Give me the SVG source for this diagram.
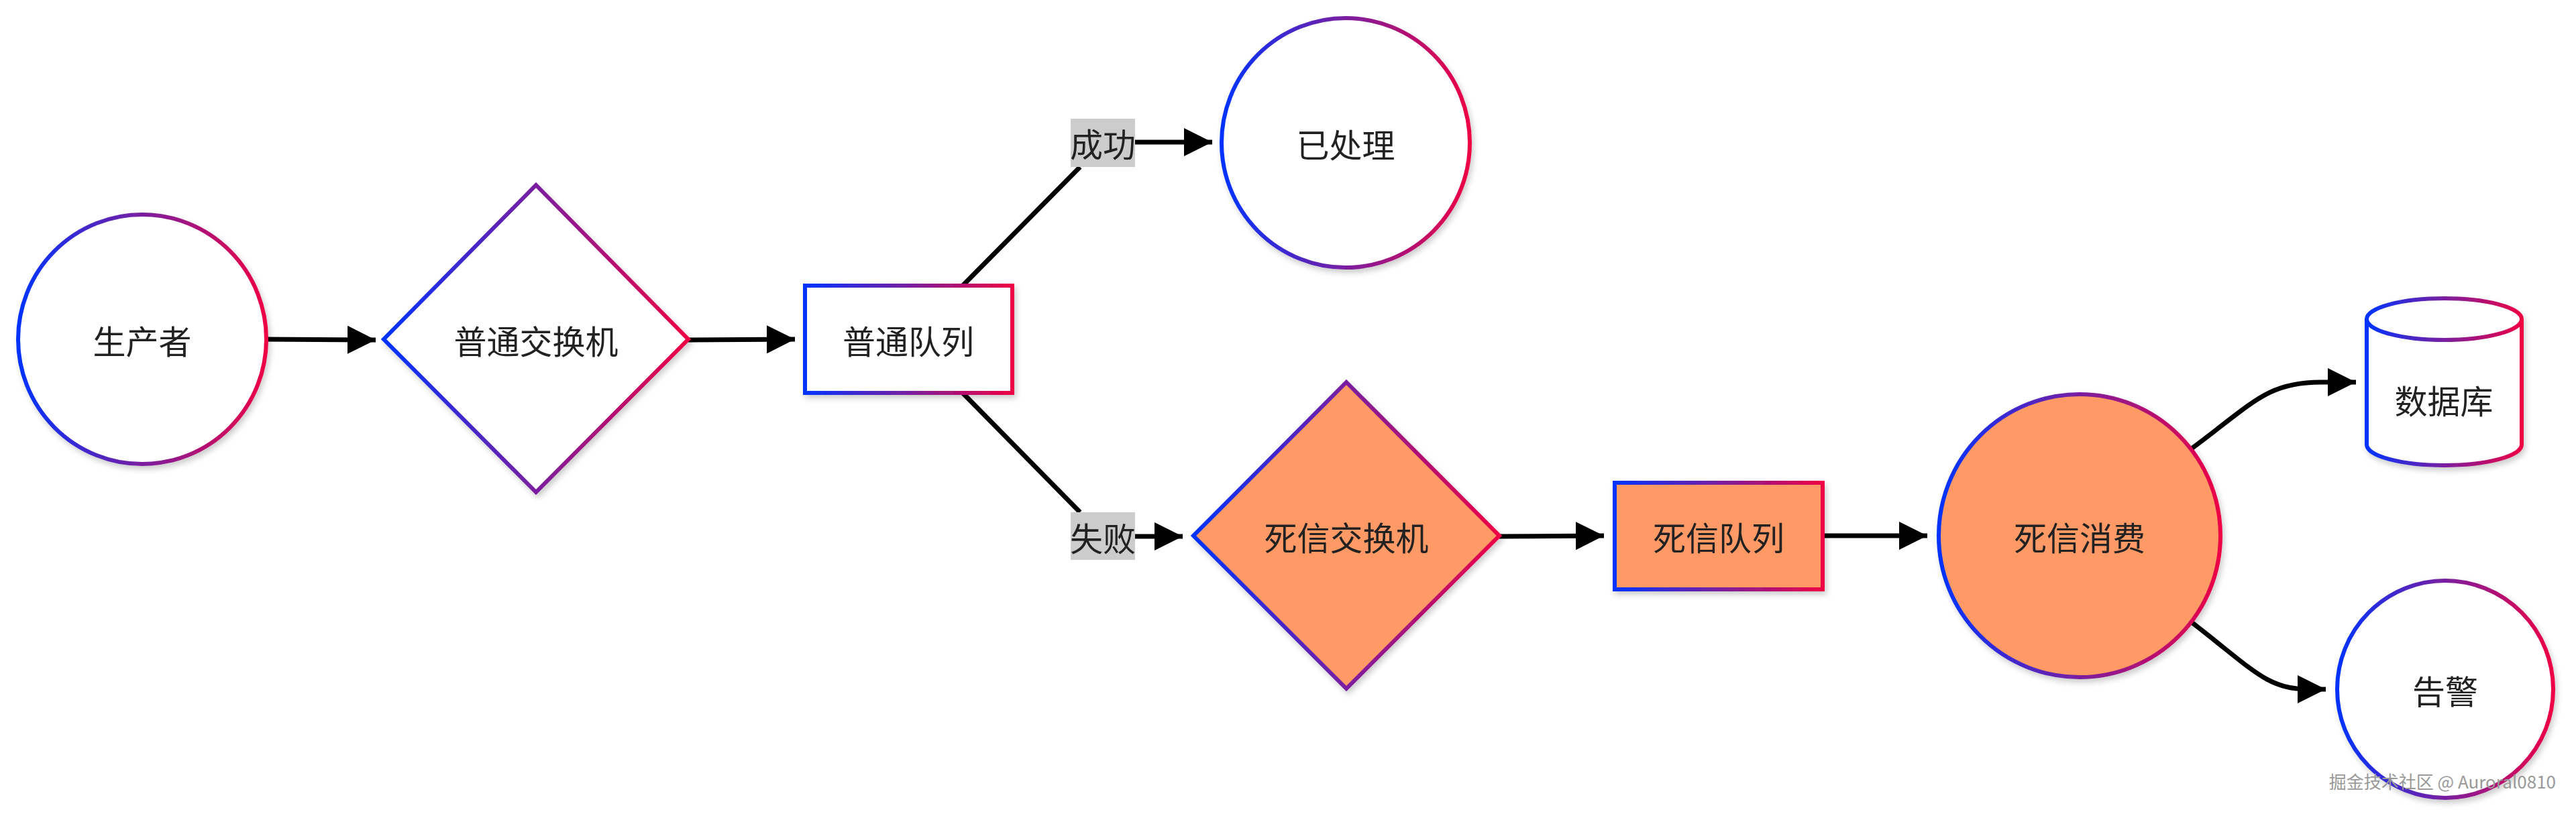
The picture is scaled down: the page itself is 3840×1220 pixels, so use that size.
<svg xmlns="http://www.w3.org/2000/svg" width="3840" height="1220" viewBox="0 0 3840 1220">
<defs>
<linearGradient id="g" x1="0" y1="0" x2="1" y2="0"><stop offset="0" stop-color="#0033ff"/><stop offset="0.5" stop-color="#7a1fa0"/><stop offset="1" stop-color="#ee0044"/></linearGradient>
<filter id="sh" x="-10%" y="-10%" width="120%" height="120%"><feDropShadow dx="3" dy="5" stdDeviation="4" flood-color="#000" flood-opacity="0.2"/></filter>
<marker id="ar" viewBox="0 0 10 10" refX="10" refY="5" markerWidth="6" markerHeight="6" markerUnits="strokeWidth" orient="auto"><path d="M0,0L10,5L0,10z" fill="#000"/></marker>
</defs>
<style>
.n{stroke:url(#g);stroke-width:6;fill:#fff;filter:url(#sh)}
.o{fill:#ff9966}
.t{font-family:"Noto Sans CJK SC",sans-serif;font-size:49px;fill:#222;text-anchor:middle;dominant-baseline:central}
.c{fill:none;stroke:#000;stroke-width:7}
.a{marker-end:url(#ar)}
.l{fill:#cccccc}
</style>
<g id="connectors">
<path class="c a" d="M398,506 L560,507"/>
<path class="c a" d="M1026,507 L1185,506"/>
<path class="c" d="M1435,426 L1610,249"/>
<path class="c a" d="M1692,212 L1807,212"/>
<path class="c" d="M1435,586 L1610,764"/>
<path class="c a" d="M1692,800 L1763,800"/>
<path class="c a" d="M2235,800 L2391,799"/>
<path class="c a" d="M2717,799 L2873,799"/>
<path class="c a" d="M3267,669 C3360,600 3380,570 3460,570 L3512,570"/>
<path class="c a" d="M3267,928 C3360,1000 3380,1028 3440,1028 L3467,1028"/>
<rect class="l" x="1596" y="177" width="96" height="72"/>
<text class="t" x="1644" y="212">成功</text>
<rect class="l" x="1596" y="764" width="96" height="71"/>
<text class="t" x="1644" y="800">失败</text>
</g>
<g id="producer"><ellipse class="n" cx="212" cy="506" rx="185" ry="186"/><text class="t" x="212" y="506">生产者</text></g>
<g id="exchange"><path class="n" d="M799,276 L1026,506 L799,734 L572,506z"/><text class="t" x="799" y="506">普通交换机</text></g>
<g id="queue"><rect class="n" x="1200" y="426" width="309" height="160"/><text class="t" x="1354" y="506">普通队列</text></g>
<g id="processed"><ellipse class="n" cx="2006" cy="213" rx="185" ry="186"/><text class="t" x="2006" y="213">已处理</text></g>
<g id="dlx"><path class="n o" d="M2007,570 L2235,799 L2007,1027 L1779,799z"/><text class="t" x="2007" y="799">死信交换机</text></g>
<g id="dlq"><rect class="n o" x="2407" y="720" width="310" height="159"/><text class="t" x="2562" y="799">死信队列</text></g>
<g id="dlc"><ellipse class="n o" cx="3100" cy="799" rx="210" ry="211"/><text class="t" x="3100" y="799">死信消费</text></g>
<g id="db"><path class="n" d="M3528,476 A115.5,31 0 0 1 3759,476 L3759,663 A115.5,31 0 0 1 3528,663z"/><path d="M3528,476 A115.5,31 0 0 0 3759,476" fill="none" stroke="url(#g)" stroke-width="6"/><text class="t" x="3643" y="595">数据库</text></g>
<g id="alarm"><ellipse class="n" cx="3645" cy="1028" rx="161" ry="162"/><text class="t" x="3645" y="1028">告警</text></g>
<text x="3810" y="1176" font-family="Noto Sans CJK SC,sans-serif" font-size="26" fill="#999" text-anchor="end">掘金技术社区 @ Auroral0810</text>
</svg>
